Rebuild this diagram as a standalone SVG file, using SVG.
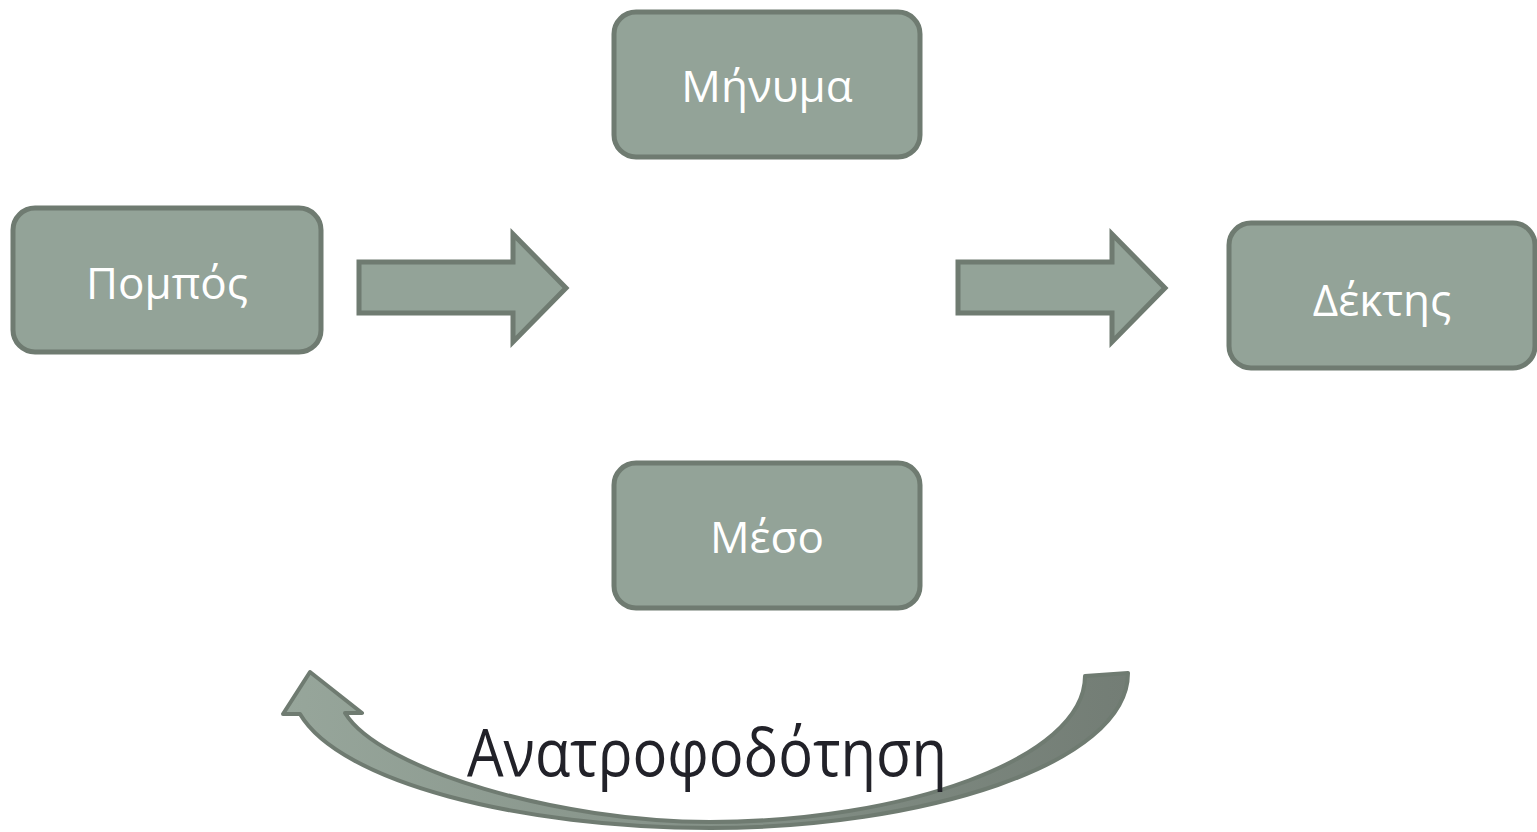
<svg xmlns="http://www.w3.org/2000/svg" width="1537" height="832" viewBox="0 0 1537 832">
<style>
.box{fill:#93a398;stroke:#6f7b71;stroke-width:5}
.lbl{font-family:"Open Sans","Noto Sans","DejaVu Sans",sans-serif;font-size:44px;fill:#ffffff;text-anchor:middle}
.arr{fill:#93a398;stroke:#6f7b71;stroke-width:5;stroke-linejoin:miter}
</style>
<defs>
<linearGradient id="cg" x1="0" y1="0" x2="1" y2="0">
<stop offset="0" stop-color="#97a69b"/>
<stop offset="1" stop-color="#737d75"/>
</linearGradient>
</defs>
<rect width="1537" height="832" fill="#ffffff"/>
<g id="connectors">
<polygon class="arr" points="359,262 513,262 513,234 566,288 513,342 513,313 359,313"/>
<polygon class="arr" points="958,262 1112,262 1112,234 1165,288 1112,342 1112,313 958,313"/>
<path d="M1128,673 C1128,765 920,828 710,828 C520,828 340,782 300,714 L283,714 L310,672 L362,713 L345,713 C380,770 560,822 710,822 C900,822 1085,760 1085,676 Z" fill="url(#cg)" stroke="#6f7b71" stroke-width="4" stroke-linejoin="round"/>
<text x="467" y="776" textLength="480" lengthAdjust="spacingAndGlyphs" font-family="'Open Sans','Noto Sans','DejaVu Sans',sans-serif" font-size="66" fill="#222229">Ανατροφοδότηση</text>
</g>
<g id="pompos"><rect class="box" x="13" y="208" width="308" height="144" rx="22"/><text class="lbl" x="167" y="299">Πομπός</text></g>
<g id="minyma"><rect class="box" x="614" y="12" width="306" height="145" rx="22"/><text class="lbl" x="767" y="102">Μήνυμα</text></g>
<g id="dektis"><rect class="box" x="1229" y="223" width="306" height="145" rx="22"/><text class="lbl" x="1382" y="316">Δέκτης</text></g>
<g id="meso"><rect class="box" x="614" y="463" width="306" height="145" rx="22"/><text class="lbl" x="767" y="553">Μέσο</text></g>
</svg>
